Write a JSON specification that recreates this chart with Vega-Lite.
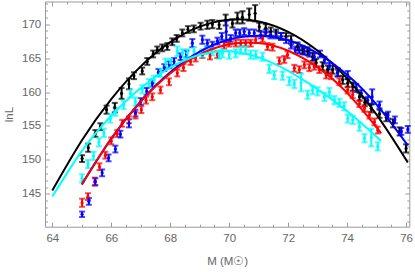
{
 "$schema": "https://vega.github.io/schema/vega-lite/v6.json",
 "width": 364.3,
 "height": 225.2,
 "autosize": {"type": "none"},
 "padding": {"left": 45, "top": 1.5, "right": 5.7, "bottom": 45.3},
 "background": "white",
 "config": {
  "view": {"stroke": "#9a9a9a", "strokeWidth": 1},
  "axis": {"grid": false, "domain": false, "tickColor": "#9a9a9a", "tickWidth": 1, "labelColor": "#666666", "labelFont": "Liberation Sans", "labelFontSize": 11.5, "titleFont": "Liberation Sans", "titleFontSize": 11.5, "titleFontWeight": "normal", "titleColor": "#666666", "labelFlush": false, "labelOverlap": false}
 },
 "datasets": {
  "pts": [
   {"s":"black","x":65.01,"y":150.2,"e":0.5},{"s":"black","x":65.22,"y":151.8,"e":0.6},{"s":"black","x":65.46,"y":153.9,"e":0.5},{"s":"black","x":65.63,"y":154.9,"e":0.5},{"s":"black","x":65.84,"y":157.4,"e":0.6},{"s":"black","x":66.12,"y":157.7,"e":0.7},{"s":"black","x":66.35,"y":159.8,"e":0.8},{"s":"black","x":66.6,"y":161.2,"e":0.8},{"s":"black","x":66.77,"y":162.4,"e":0.5},{"s":"black","x":67.05,"y":163.1,"e":0.5},{"s":"black","x":67.22,"y":164.5,"e":0.5},{"s":"black","x":67.42,"y":165.6,"e":0.5},{"s":"black","x":67.56,"y":166.2,"e":0.5},{"s":"black","x":67.73,"y":166.5,"e":0.5},{"s":"black","x":67.9,"y":166.7,"e":0.5},{"s":"black","x":68.07,"y":167.4,"e":0.5},{"s":"black","x":68.22,"y":167.9,"e":0.5},{"s":"black","x":68.41,"y":168.7,"e":0.5},{"s":"black","x":68.6,"y":169.2,"e":0.5},{"s":"black","x":68.8,"y":169.3,"e":0.5},{"s":"black","x":69.03,"y":169.7,"e":0.5},{"s":"black","x":69.26,"y":169.9,"e":0.6},{"s":"black","x":69.43,"y":170.0,"e":0.6},{"s":"black","x":69.66,"y":169.9,"e":0.6},{"s":"black","x":69.88,"y":170.6,"e":0.8},{"s":"black","x":70.11,"y":170.1,"e":0.6},{"s":"black","x":70.28,"y":170.9,"e":0.8},{"s":"black","x":70.45,"y":171.0,"e":0.9},{"s":"black","x":70.68,"y":171.4,"e":0.9},{"s":"black","x":70.88,"y":171.6,"e":1.2},{"s":"black","x":71.02,"y":169.6,"e":0.6},{"s":"black","x":71.24,"y":169.4,"e":0.6},{"s":"black","x":71.41,"y":168.9,"e":0.6},{"s":"black","x":71.59,"y":168.7,"e":0.5},{"s":"black","x":71.76,"y":168.2,"e":0.5},{"s":"black","x":71.93,"y":168.2,"e":0.5},{"s":"black","x":72.1,"y":167.7,"e":0.6},{"s":"black","x":72.32,"y":166.7,"e":0.6},{"s":"black","x":72.49,"y":166.2,"e":0.6},{"s":"black","x":72.66,"y":166.0,"e":0.6},{"s":"black","x":72.83,"y":165.2,"e":0.6},{"s":"black","x":72.95,"y":164.3,"e":0.6},{"s":"black","x":73.17,"y":163.8,"e":0.6},{"s":"black","x":73.34,"y":163.3,"e":0.6},{"s":"black","x":73.51,"y":163.3,"e":0.6},{"s":"black","x":73.68,"y":162.9,"e":0.6},{"s":"black","x":73.85,"y":161.8,"e":0.6},{"s":"black","x":74.02,"y":161.3,"e":0.6},{"s":"black","x":74.19,"y":160.8,"e":0.6},{"s":"black","x":74.42,"y":159.3,"e":0.6},{"s":"black","x":74.6,"y":158.5,"e":0.6},{"s":"black","x":74.82,"y":157.6,"e":0.6},{"s":"black","x":75.1,"y":156.8,"e":0.6},{"s":"black","x":75.33,"y":156.3,"e":0.6},{"s":"black","x":75.56,"y":155.4,"e":0.6},{"s":"black","x":75.78,"y":154.2,"e":0.6},{"s":"black","x":76.0,"y":151.7,"e":0.6},
   {"s":"red","x":65.01,"y":143.7,"e":0.6},{"s":"red","x":65.21,"y":144.6,"e":0.5},{"s":"red","x":65.44,"y":146.8,"e":0.6},{"s":"red","x":65.6,"y":149.0,"e":0.5},{"s":"red","x":65.8,"y":150.7,"e":0.5},{"s":"red","x":66.0,"y":152.8,"e":0.5},{"s":"red","x":66.2,"y":153.9,"e":0.5},{"s":"red","x":66.37,"y":155.4,"e":0.5},{"s":"red","x":66.6,"y":155.9,"e":0.5},{"s":"red","x":66.82,"y":156.6,"e":0.5},{"s":"red","x":67.02,"y":157.4,"e":0.5},{"s":"red","x":67.18,"y":158.8,"e":0.5},{"s":"red","x":67.39,"y":159.3,"e":0.5},{"s":"red","x":67.67,"y":160.3,"e":0.5},{"s":"red","x":67.96,"y":161.5,"e":0.5},{"s":"red","x":68.24,"y":162.8,"e":0.5},{"s":"red","x":68.45,"y":163.6,"e":0.5},{"s":"red","x":68.69,"y":164.5,"e":0.5},{"s":"red","x":68.86,"y":165.0,"e":0.5},{"s":"red","x":69.09,"y":165.5,"e":0.5},{"s":"red","x":69.35,"y":165.3,"e":0.5},{"s":"red","x":69.6,"y":165.5,"e":0.5},{"s":"red","x":69.83,"y":166.9,"e":0.5},{"s":"red","x":70.0,"y":167.2,"e":0.5},{"s":"red","x":70.22,"y":167.2,"e":0.5},{"s":"red","x":70.39,"y":167.2,"e":0.5},{"s":"red","x":70.56,"y":167.2,"e":0.5},{"s":"red","x":70.73,"y":167.2,"e":0.5},{"s":"red","x":70.9,"y":167.7,"e":0.5},{"s":"red","x":71.13,"y":167.9,"e":0.5},{"s":"red","x":71.3,"y":166.7,"e":0.5},{"s":"red","x":71.47,"y":166.6,"e":0.5},{"s":"red","x":71.7,"y":164.6,"e":0.5},{"s":"red","x":71.87,"y":164.8,"e":0.5},{"s":"red","x":71.98,"y":165.5,"e":0.5},{"s":"red","x":72.21,"y":163.5,"e":0.5},{"s":"red","x":72.38,"y":163.3,"e":0.5},{"s":"red","x":72.55,"y":164.0,"e":0.5},{"s":"red","x":72.72,"y":163.6,"e":0.5},{"s":"red","x":72.89,"y":163.8,"e":0.5},{"s":"red","x":73.06,"y":163.3,"e":0.5},{"s":"red","x":73.29,"y":162.5,"e":0.5},{"s":"red","x":73.46,"y":162.4,"e":0.5},{"s":"red","x":73.74,"y":161.5,"e":0.5},{"s":"red","x":74.02,"y":160.3,"e":0.5},{"s":"red","x":74.19,"y":159.6,"e":0.5},{"s":"red","x":74.42,"y":158.3,"e":0.5},{"s":"red","x":74.59,"y":157.6,"e":0.5},{"s":"red","x":74.76,"y":156.6,"e":0.5},{"s":"red","x":74.93,"y":155.6,"e":0.5},{"s":"red","x":75.04,"y":154.4,"e":0.5},
   {"s":"blue","x":65.01,"y":142.0,"e":0.4},{"s":"blue","x":65.24,"y":143.9,"e":0.5},{"s":"blue","x":65.46,"y":146.8,"e":0.5},{"s":"blue","x":65.69,"y":148.1,"e":0.5},{"s":"blue","x":65.91,"y":150.3,"e":0.5},{"s":"blue","x":66.14,"y":151.6,"e":0.5},{"s":"blue","x":66.31,"y":153.8,"e":0.5},{"s":"blue","x":66.6,"y":155.4,"e":0.6},{"s":"blue","x":66.82,"y":156.9,"e":0.5},{"s":"blue","x":67.0,"y":158.6,"e":0.5},{"s":"blue","x":67.2,"y":160.1,"e":0.5},{"s":"blue","x":67.39,"y":161.3,"e":0.5},{"s":"blue","x":67.6,"y":162.9,"e":0.5},{"s":"blue","x":67.8,"y":163.6,"e":0.5},{"s":"blue","x":67.97,"y":164.0,"e":0.5},{"s":"blue","x":68.13,"y":164.5,"e":0.5},{"s":"blue","x":68.35,"y":165.2,"e":0.5},{"s":"blue","x":68.55,"y":165.6,"e":0.5},{"s":"blue","x":68.75,"y":167.2,"e":0.6},{"s":"blue","x":69.09,"y":167.7,"e":0.6},{"s":"blue","x":69.26,"y":167.2,"e":0.5},{"s":"blue","x":69.43,"y":166.9,"e":0.5},{"s":"blue","x":69.6,"y":167.5,"e":0.5},{"s":"blue","x":69.75,"y":168.2,"e":0.5},{"s":"blue","x":69.9,"y":168.9,"e":1.6},{"s":"blue","x":70.05,"y":167.9,"e":0.5},{"s":"blue","x":70.22,"y":168.7,"e":0.5},{"s":"blue","x":70.36,"y":168.7,"e":0.5},{"s":"blue","x":70.51,"y":168.9,"e":0.5},{"s":"blue","x":70.68,"y":168.7,"e":0.5},{"s":"blue","x":70.85,"y":168.7,"e":0.5},{"s":"blue","x":71.07,"y":168.4,"e":0.5},{"s":"blue","x":71.24,"y":168.7,"e":0.5},{"s":"blue","x":71.4,"y":168.4,"e":0.5},{"s":"blue","x":71.59,"y":168.4,"e":0.5},{"s":"blue","x":71.76,"y":168.2,"e":0.5},{"s":"blue","x":71.93,"y":167.7,"e":0.5},{"s":"blue","x":72.1,"y":166.9,"e":0.5},{"s":"blue","x":72.24,"y":166.2,"e":0.5},{"s":"blue","x":72.38,"y":166.2,"e":0.5},{"s":"blue","x":72.55,"y":166.0,"e":0.5},{"s":"blue","x":72.72,"y":165.7,"e":0.5},{"s":"blue","x":72.89,"y":165.2,"e":0.5},{"s":"blue","x":73.08,"y":165.6,"e":0.5},{"s":"blue","x":73.23,"y":164.7,"e":0.5},{"s":"blue","x":73.4,"y":163.8,"e":0.5},{"s":"blue","x":73.68,"y":162.8,"e":0.5},{"s":"blue","x":74.02,"y":162.5,"e":0.6},{"s":"blue","x":74.31,"y":160.6,"e":0.6},{"s":"blue","x":74.48,"y":159.8,"e":0.5},{"s":"blue","x":74.7,"y":158.8,"e":0.5},{"s":"blue","x":74.85,"y":159.3,"e":1.1},{"s":"blue","x":75.1,"y":158.1,"e":0.5},{"s":"blue","x":75.39,"y":156.6,"e":0.5},{"s":"blue","x":75.62,"y":155.9,"e":0.5},{"s":"blue","x":75.84,"y":154.2,"e":0.5},{"s":"blue","x":76.06,"y":154.5,"e":0.5},
   {"s":"cyan","x":65.01,"y":147.3,"e":0.6},{"s":"cyan","x":65.21,"y":149.4,"e":0.6},{"s":"cyan","x":65.4,"y":150.6,"e":0.6},{"s":"cyan","x":65.58,"y":152.6,"e":0.6},{"s":"cyan","x":65.75,"y":154.0,"e":0.6},{"s":"cyan","x":65.97,"y":156.1,"e":0.6},{"s":"cyan","x":66.14,"y":157.1,"e":0.6},{"s":"cyan","x":66.42,"y":158.1,"e":0.6},{"s":"cyan","x":66.65,"y":159.8,"e":0.6},{"s":"cyan","x":66.82,"y":158.6,"e":0.6},{"s":"cyan","x":67.05,"y":160.4,"e":0.6},{"s":"cyan","x":67.28,"y":161.3,"e":0.6},{"s":"cyan","x":67.45,"y":161.8,"e":0.6},{"s":"cyan","x":67.67,"y":162.8,"e":0.6},{"s":"cyan","x":67.84,"y":164.3,"e":0.6},{"s":"cyan","x":68.01,"y":164.3,"e":0.6},{"s":"cyan","x":68.24,"y":166.0,"e":0.7},{"s":"cyan","x":68.41,"y":165.7,"e":0.6},{"s":"cyan","x":68.58,"y":165.7,"e":0.6},{"s":"cyan","x":68.81,"y":166.0,"e":0.6},{"s":"cyan","x":69.09,"y":165.7,"e":0.6},{"s":"cyan","x":69.26,"y":166.2,"e":0.6},{"s":"cyan","x":69.43,"y":166.0,"e":0.6},{"s":"cyan","x":69.66,"y":165.5,"e":0.6},{"s":"cyan","x":69.77,"y":165.7,"e":0.6},{"s":"cyan","x":70.0,"y":165.5,"e":0.6},{"s":"cyan","x":70.22,"y":165.7,"e":0.6},{"s":"cyan","x":70.39,"y":166.2,"e":0.6},{"s":"cyan","x":70.56,"y":166.2,"e":0.6},{"s":"cyan","x":70.73,"y":165.5,"e":0.6},{"s":"cyan","x":70.9,"y":165.5,"e":0.6},{"s":"cyan","x":71.13,"y":165.2,"e":0.6},{"s":"cyan","x":71.36,"y":163.4,"e":0.6},{"s":"cyan","x":71.53,"y":162.5,"e":0.6},{"s":"cyan","x":71.81,"y":162.4,"e":0.6},{"s":"cyan","x":72.04,"y":161.6,"e":0.6},{"s":"cyan","x":72.21,"y":161.2,"e":0.6},{"s":"cyan","x":72.44,"y":161.4,"e":1.3},{"s":"cyan","x":72.66,"y":159.6,"e":0.6},{"s":"cyan","x":72.83,"y":160.3,"e":0.6},{"s":"cyan","x":73.0,"y":160.1,"e":0.6},{"s":"cyan","x":73.23,"y":159.3,"e":0.6},{"s":"cyan","x":73.4,"y":160.0,"e":0.6},{"s":"cyan","x":73.57,"y":158.8,"e":0.6},{"s":"cyan","x":73.74,"y":158.4,"e":0.6},{"s":"cyan","x":73.9,"y":157.9,"e":0.6},{"s":"cyan","x":74.02,"y":156.1,"e":0.6},{"s":"cyan","x":74.19,"y":155.9,"e":0.6},{"s":"cyan","x":74.42,"y":154.9,"e":0.6},{"s":"cyan","x":74.59,"y":153.2,"e":0.6},{"s":"cyan","x":74.82,"y":153.3,"e":1.3},{"s":"cyan","x":75.04,"y":152.0,"e":0.6}
  ],
  "fit": [
   {"s":"black","x":64,"y":145.5},{"s":"black","x":65,"y":152.86},{"s":"black","x":66,"y":158.96},{"s":"black","x":67,"y":163.78},{"s":"black","x":68,"y":167.34},{"s":"black","x":69,"y":169.63},{"s":"black","x":70,"y":170.64},{"s":"black","x":71,"y":170.39},{"s":"black","x":72,"y":168.86},{"s":"black","x":73,"y":166.07},{"s":"black","x":74,"y":162.01},{"s":"black","x":75,"y":156.67},{"s":"black","x":76.06,"y":149.63},
   {"s":"blue","x":65,"y":146.39},{"s":"blue","x":66,"y":153.13},{"s":"blue","x":67,"y":158.64},{"s":"blue","x":68,"y":162.91},{"s":"blue","x":69,"y":165.95},{"s":"blue","x":70,"y":167.74},{"s":"blue","x":71,"y":168.3},{"s":"blue","x":72,"y":167.62},{"s":"blue","x":73,"y":165.7},{"s":"blue","x":74,"y":162.54},{"s":"blue","x":75,"y":158.15},{"s":"blue","x":76.06,"y":152.14},
   {"s":"red","x":65,"y":146.4},{"s":"red","x":66,"y":153.15},{"s":"red","x":67,"y":158.59},{"s":"red","x":68,"y":162.72},{"s":"red","x":69,"y":165.53},{"s":"red","x":70,"y":167.03},{"s":"red","x":71,"y":167.21},{"s":"red","x":72,"y":166.08},{"s":"red","x":73,"y":163.64},{"s":"red","x":74,"y":159.88},{"s":"red","x":75,"y":154.81},{"s":"red","x":75.1,"y":154.23},
   {"s":"cyan","x":64,"y":144.6},{"s":"cyan","x":65,"y":151.3},{"s":"cyan","x":66,"y":156.5},{"s":"cyan","x":67,"y":160.6},{"s":"cyan","x":68,"y":163.6},{"s":"cyan","x":69,"y":165.5},{"s":"cyan","x":70,"y":166.0},{"s":"cyan","x":71,"y":165.1},{"s":"cyan","x":72,"y":163.1},{"s":"cyan","x":73,"y":160.4},{"s":"cyan","x":74,"y":157.2},{"s":"cyan","x":75,"y":153.4},{"s":"cyan","x":75.05,"y":153.2}
  ]
 },
 "resolve": {"axis": {"x": "independent", "y": "independent"}},
 "layer": [
  {
   "data": {"name": "pts"},
   "mark": {"type": "errorbar", "ticks": true, "size": 6, "thickness": 2},
   "encoding": {
    "x": {"field": "x", "type": "quantitative", "scale": {"domain": [63.752, 76.11], "nice": false, "zero": false}, "axis": null},
    "y": {"field": "y", "type": "quantitative", "scale": {"domain": [140.17, 173.33], "nice": false, "zero": false}, "axis": null},
    "yError": {"field": "e"},
    "color": {"field": "s", "type": "nominal", "scale": {"domain": ["black", "red", "blue", "cyan"], "range": ["#000000", "#ff0000", "#0000ff", "#00ffff"]}, "legend": null}
   }
  },
  {
   "data": {"name": "pts"},
   "transform": [{"filter": "datum.s === 'black' || datum.s === 'red'"}],
   "mark": {"type": "point", "filled": true, "size": 10, "opacity": 1},
   "encoding": {
    "x": {"field": "x", "type": "quantitative", "axis": {"orient": "bottom", "values": [64.5,65,65.5,66.5,67,67.5,68.5,69,69.5,70.5,71,71.5,72.5,73,73.5,74.5,75,75.5], "tickSize": -2.5, "labels": false, "title": null}},
    "y": {"field": "y", "type": "quantitative", "axis": {"orient": "left", "values": [141,142,143,144,146,147,148,149,151,152,153,154,156,157,158,159,161,162,163,164,166,167,168,169,171,172,173], "tickSize": -2.5, "labels": false, "title": null}},
    "color": {"field": "s", "type": "nominal", "legend": null}
   }
  },
  {
   "data": {"name": "pts"},
   "transform": [{"filter": "datum.s === 'blue' || datum.s === 'cyan'"}],
   "mark": {"type": "point", "filled": true, "size": 10, "opacity": 1},
   "encoding": {
    "x": {"field": "x", "type": "quantitative", "axis": {"orient": "top", "values": [64.5,65,65.5,66.5,67,67.5,68.5,69,69.5,70.5,71,71.5,72.5,73,73.5,74.5,75,75.5], "tickSize": -2.5, "labels": false, "title": null}},
    "y": {"field": "y", "type": "quantitative", "axis": {"orient": "right", "values": [141,142,143,144,146,147,148,149,151,152,153,154,156,157,158,159,161,162,163,164,166,167,168,169,171,172,173], "tickSize": -2.5, "labels": false, "title": null}},
    "color": {"field": "s", "type": "nominal", "legend": null}
   }
  },
  {
   "data": {"name": "fit"},
   "transform": [{"filter": "datum.s === 'black' || datum.s === 'blue'"}],
   "mark": {"type": "line", "strokeWidth": 2, "interpolate": "natural"},
   "encoding": {
    "x": {"field": "x", "type": "quantitative", "axis": {"orient": "bottom", "values": [64,66,68,70,72,74,76], "tickSize": -4.5, "labelPadding": 10.3, "title": "M (M☉)", "titlePadding": 11.8}},
    "y": {"field": "y", "type": "quantitative", "axis": {"orient": "left", "values": [145,150,155,160,165,170], "tickSize": -4.5, "labelPadding": 8.8, "title": "lnL", "titlePadding": 6.6}},
    "color": {"field": "s", "type": "nominal", "legend": null}
   }
  },
  {
   "data": {"name": "fit"},
   "transform": [{"filter": "datum.s === 'red' || datum.s === 'cyan'"}],
   "mark": {"type": "line", "strokeWidth": 2, "interpolate": "natural"},
   "encoding": {
    "x": {"field": "x", "type": "quantitative", "axis": {"orient": "top", "values": [64,66,68,70,72,74,76], "tickSize": -4.5, "labels": false, "title": null}},
    "y": {"field": "y", "type": "quantitative", "axis": {"orient": "right", "values": [145,150,155,160,165,170], "tickSize": -4.5, "labels": false, "title": null}},
    "color": {"field": "s", "type": "nominal", "legend": null}
   }
  }
 ]
}
